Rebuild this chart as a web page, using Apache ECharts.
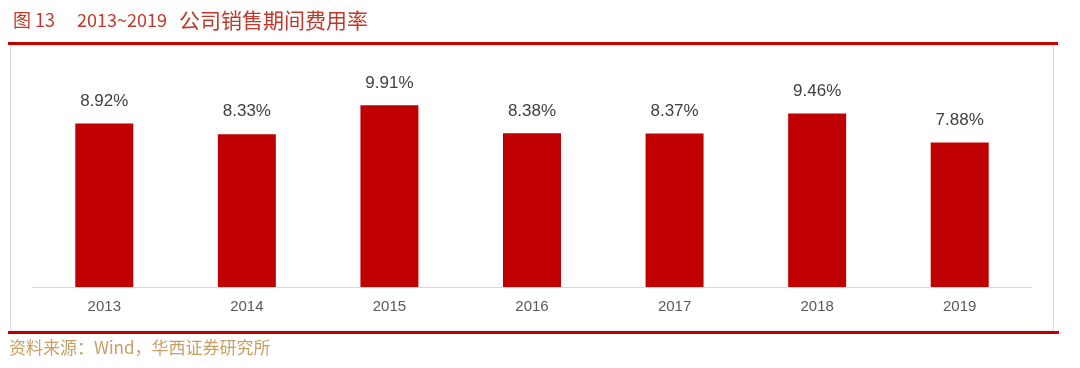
<!DOCTYPE html>
<html><head><meta charset="utf-8">
<script src="https://cdn.jsdelivr.net/npm/echarts@6/dist/echarts.min.js"></script>
<style>html,body{margin:0;padding:0;background:#fff}#c{width:1080px;height:368px}</style>
</head><body><div id="c"></div>
<script>
const categories = ['2013','2014','2015','2016','2017','2018','2019'];
const values = [8.92, 8.33, 9.91, 8.38, 8.37, 9.46, 7.88];
const titleNum = '图 13';
const titleYears = '2013~2019';
const titleCn = '公司销售期间费用率';
const sourceText = '资料来源：Wind，华西证券研究所';

const chart = echarts.init(document.getElementById('c'));
chart.setOption({
  backgroundColor: '#fff',
  animation: false,
  title: {
    text: '{a|' + titleNum + '}{g|}{a|' + titleYears + '}{s|}{b|' + titleCn + '}', left: 8, top: 5,
    textStyle: {
      fontWeight: 'normal',
      rich: {
        a: { color: '#C0392B', fontSize: 18, fontWeight: 'normal', fontFamily: 'Noto Sans CJK SC' },
        g: { width: 22 },
        s: { width: 12 },
        b: { color: '#C0392B', fontSize: 21, fontWeight: 'normal', fontFamily: 'Noto Sans CJK SC' }
      }
    }
  },
  graphic: [
    { type: 'rect', shape: { x: 10.5, y: 45, width: 1043, height: 286 }, style: { fill: 'none', stroke: '#d9d9d9', lineWidth: 1 } },
    { type: 'rect', shape: { x: 8, y: 42, width: 1050, height: 3 }, style: { fill: '#C00000' } },
    { type: 'rect', shape: { x: 8, y: 331, width: 1051, height: 3 }, style: { fill: '#C00000' } },
    { type: 'text', left: 9, top: 339, style: { text: sourceText, fill: '#C9A063', fontSize: 17, fontFamily: 'Noto Sans CJK SC' } }
  ],
  grid: { left: 33, right: 49, top: 67, bottom: 81 },
  xAxis: {
    type: 'category', data: categories,
    axisLine: { lineStyle: { color: '#d9d9d9', width: 1 } },
    axisTick: { show: false },
    axisLabel: { color: '#595959', fontSize: 15, margin: 12, fontFamily: 'Liberation Sans' }
  },
  yAxis: { type: 'value', min: 0, max: 12, show: false, splitLine: { show: false } },
  series: [{
    type: 'bar', data: values, barWidth: 58,
    itemStyle: { color: '#C00000' },
    label: { show: true, position: 'top', distance: 14, formatter: p => p.value.toFixed(2) + '%', color: '#404040', fontSize: 17, fontFamily: 'Liberation Sans' }
  }]
});
</script></body></html>
